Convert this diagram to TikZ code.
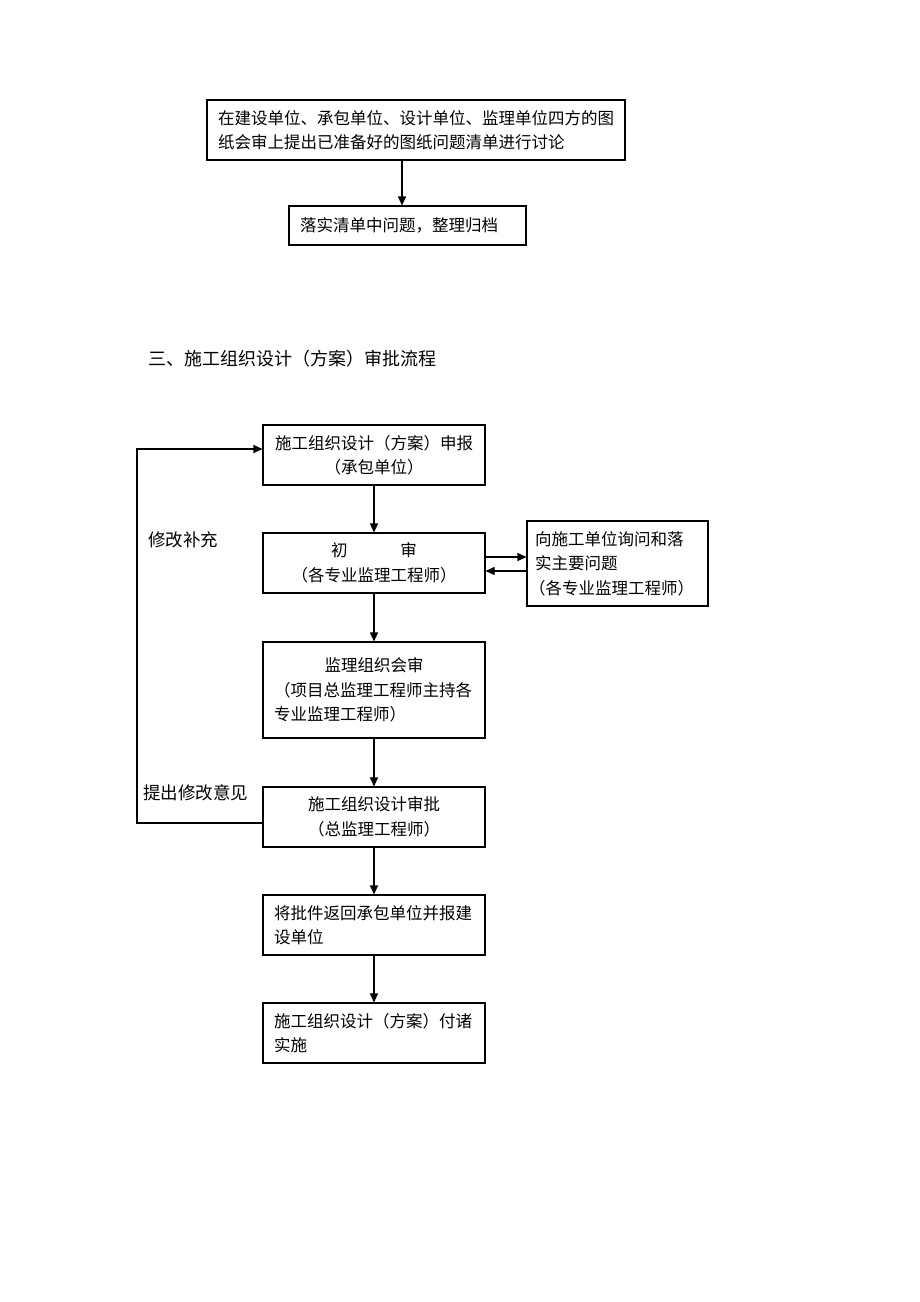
\documentclass[tikz,border=0pt]{standalone}
\usepackage{fontspec}
\newfontfamily\cjk{Noto Sans CJK SC}
\usetikzlibrary{arrows.meta}
\begin{document}
\begin{tikzpicture}[x=1pt,y=-1pt,
  box/.style={draw, line width=1.1pt, inner xsep=11pt, inner ysep=0pt,
    font=\cjk\fontsize{16.5}{24.5}\selectfont},
  lbl/.style={font=\cjk\fontsize{17.5}{22}\selectfont, inner sep=0pt, anchor=west},
  flow/.style={line width=1.1pt, -{Triangle[length=9pt,width=8pt]}},
  plain/.style={line width=1.1pt}]
\useasboundingbox (0,0) rectangle (920,1302);
% top part
\node[box, minimum width=418pt, minimum height=60pt, text width=396pt, align=left] (b1) at (416,130)
  {在建设单位、承包单位、设计单位、监理单位四方的图\\纸会审上提出已准备好的图纸问题清单进行讨论};
\node[box, minimum width=237pt, minimum height=39pt, text width=215pt, align=left] (b2) at (407.5,225.5)
  {落实清单中问题，整理归档};
\draw[flow] (b1.south -| 402,0) -- (b2.north -| 402,0);
% heading
\node[lbl, font=\cjk\fontsize{18}{22}\selectfont] (head) at (148,359) {三、施工组织设计（方案）审批流程};
% main flow
\node[box, minimum width=222pt, minimum height=60pt, text width=200pt, align=center] (s1) at (374,455)
  {施工组织设计（方案）申报\\（承包单位）};
\node[box, minimum width=222pt, minimum height=60pt, text width=200pt, align=center] (s2) at (374,563)
  {初\hspace{3.2em}审\\（各专业监理工程师）};
\node[box, minimum width=181pt, minimum height=85pt, text width=165pt, inner xsep=8pt, align=left] (side) at (617.5,563.5)
  {向施工单位询问和落\\实主要问题\\\hspace*{-6pt}（各专业监理工程师）};
\node[box, minimum width=222pt, minimum height=96pt, text width=200pt, align=left] (s3) at (374,690)
  {\makebox[200pt][c]{监理组织会审}\\（项目总监理工程师主持各\\专业监理工程师）};
\node[box, minimum width=222pt, minimum height=60pt, text width=200pt, align=center] (s4) at (374,817)
  {施工组织设计审批\\（总监理工程师）};
\node[box, minimum width=222pt, minimum height=60pt, text width=200pt, align=left] (s5) at (374,925)
  {将批件返回承包单位并报建\\设单位};
\node[box, minimum width=222pt, minimum height=60pt, text width=200pt, align=left] (s6) at (374,1033)
  {施工组织设计（方案）付诸\\实施};
\draw[flow] (s1) -- (s2);
\draw[flow] (s2) -- (s3);
\draw[flow] (s3) -- (s4);
\draw[flow] (s4) -- (s5);
\draw[flow] (s5) -- (s6);
\draw[flow] (s2.east |- 0,557) -- (side.west |- 0,557);
\draw[flow] (side.west |- 0,571) -- (s2.east |- 0,571);
% feedback
\coordinate (fb1) at (137,823);
\coordinate (fb2) at (137,449);
\draw[flow] (s4.west |- fb1) -- (fb1) -- (fb2) -- (s1.west |- fb2);
\node[lbl] (l1) at (148,540) {修改补充};
\node[lbl] (l2) at (143,793) {提出修改意见};
\end{tikzpicture}
\end{document}
